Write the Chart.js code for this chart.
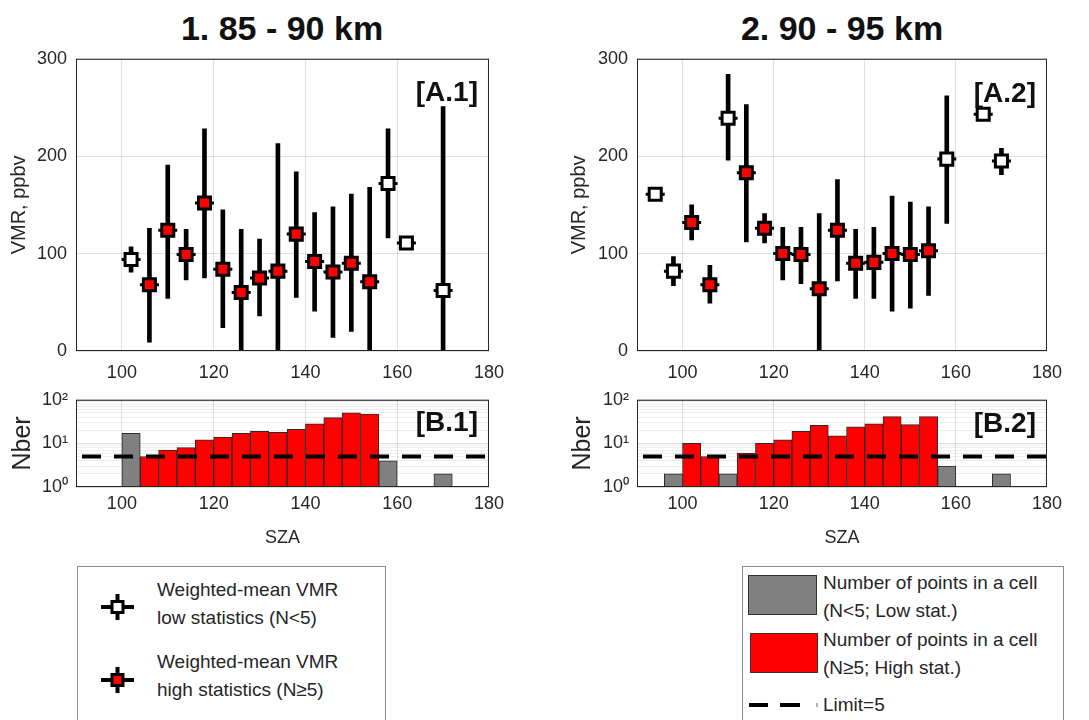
<!DOCTYPE html>
<html>
<head>
<meta charset="utf-8">
<script src="https://cdn.jsdelivr.net/npm/chart.js@4/dist/chart.umd.min.js"></script>
<style>
  body { margin: 0; background: #fff; font-family: "Liberation Sans", Arial, sans-serif; color: #262626; }
  #page { position: relative; width: 1089px; height: 720px; overflow: hidden; }
  .box { position: absolute; }
  .title { position: absolute; font-weight: bold; font-size: 34px; color: #111; transform: translate(-50%, -50%); white-space: nowrap; }
  .tag { position: absolute; font-size: 28px; font-weight: bold; color: #111; transform: translate(-100%, -50%); white-space: nowrap; }
  .legend { position: absolute; border: 1px solid #8c8c8c; background: #fff; }
  .lt { position: absolute; font-size: 19px; line-height: 28px; color: #262626; white-space: nowrap; }
</style>
</head>
<body>
<div id="page">
  <div class="title" style="left:282px; top:28px;">1. 85 - 90 km</div>
  <div class="title" style="left:842px; top:28px;">2. 90 - 95 km</div>

  <div class="box" style="left:0; top:39px;"><canvas id="a1" width="515" height="346"></canvas></div>
  <div class="box" style="left:560px; top:39px;"><canvas id="a2" width="513" height="346"></canvas></div>
  <div class="box" style="left:0; top:381px;"><canvas id="b1" width="510" height="169"></canvas></div>
  <div class="box" style="left:560px; top:381px;"><canvas id="b2" width="508" height="169"></canvas></div>

  <div class="tag" style="left:478px; top:92px;">[A.1]</div>
  <div class="tag" style="left:1036px; top:93px;">[A.2]</div>
  <div class="tag" style="left:478px; top:422px;">[B.1]</div>
  <div class="tag" style="left:1036px; top:423px;">[B.2]</div>

  <!-- legende gauche : marqueurs VMR -->
  <div class="legend" style="left:77px; top:566px; width:307px; height:170px;"></div>
  <svg class="box" style="left:95px; top:588px;" width="45" height="110">
    <line x1="6" y1="19" x2="39" y2="19" stroke="#000" stroke-width="4"/>
    <line x1="22.5" y1="6" x2="22.5" y2="32" stroke="#000" stroke-width="4"/>
    <rect x="17" y="13.5" width="11" height="11" fill="#fff" stroke="#000" stroke-width="3"/>
    <line x1="6" y1="92" x2="39" y2="92" stroke="#000" stroke-width="4"/>
    <line x1="22.5" y1="79" x2="22.5" y2="105" stroke="#000" stroke-width="4"/>
    <rect x="17" y="86.5" width="11" height="11" fill="#f00" stroke="#000" stroke-width="3"/>
  </svg>
  <div class="lt" style="left:157px; top:576px;">Weighted-mean VMR<br>low statistics (N&lt;5)</div>
  <div class="lt" style="left:157px; top:648px;">Weighted-mean VMR<br>high statistics (N&ge;5)</div>

  <!-- legende droite : histogramme -->
  <div class="legend" style="left:742px; top:566px; width:320px; height:170px;"></div>
  <div class="box" style="left:748px; top:575px; width:67px; height:38px; background:#808080; border:1px solid #333;"></div>
  <div class="box" style="left:750px; top:633px; width:66px; height:38px; background:#f00; border:1px solid #333;"></div>
  <svg class="box" style="left:745px; top:698px;" width="80" height="14">
    <line x1="4" y1="7" x2="23" y2="7" stroke="#000" stroke-width="4"/>
    <line x1="35" y1="7" x2="55" y2="7" stroke="#000" stroke-width="4"/>
    <line x1="72" y1="5" x2="72" y2="9" stroke="#999" stroke-width="1.5"/>
  </svg>
  <div class="lt" style="left:823px; top:569px;">Number of points in a cell<br>(N&lt;5; Low stat.)</div>
  <div class="lt" style="left:823px; top:626px;">Number of points in a cell<br>(N&ge;5; High stat.)</div>
  <div class="lt" style="left:823px; top:691px;">Limit=5</div>
</div>

<script>
// --- panneau A.1 : 85-90 km ---
const a1Sza = [102, 106, 110, 114, 118, 122, 126, 130, 134, 138, 142, 146, 150, 154, 158, 162, 170];
const a1Vmr = [94, 68, 124, 99, 152, 84, 60, 75, 82, 120, 92, 81, 90, 71, 172, 111, 62];
const a1ErrLo = [81, 9, 54, 73, 75, 24, 0, 36, 0, 55, 41, 14, 20, 0, 116, null, 0];
const a1ErrHi = [107, 126, 191, 125, 228, 145, 125, 115, 213, 184, 142, 148, 161, 168, 228, null, 251];
const a1LowStat = [102, 158, 162, 170];

// --- panneau A.2 : 90-95 km ---
const a2Sza = [94, 98, 102, 106, 110, 114, 118, 122, 126, 130, 134, 138, 142, 146, 150, 154, 158, 166, 170];
const a2Vmr = [161, 82, 132, 68, 239, 183, 126, 100, 99, 64, 124, 90, 91, 100, 99, 103, 197, 243, 195];
const a2ErrLo = [null, 67, 114, 49, 196, 112, 111, 73, 69, 0, 72, 54, 54, 41, 44, 57, 131, null, 181];
const a2ErrHi = [null, 97, 150, 88, 284, 253, 141, 127, 127, 141, 176, 125, 127, 159, 153, 148, 262, null, 208];
const a2LowStat = [94, 98, 110, 158, 166, 170];

// --- histogrammes B.1 / B.2 (centres des cellules de 4 deg) ---
const b1Bins = [102, 106, 110, 114, 118, 122, 126, 130, 134, 138, 142, 146, 150, 154, 158, 162, 166, 170];
const b1Counts = [17, 5, 7, 8, 12, 14, 17, 19, 18, 21, 28, 39, 50, 47, 4, 1, 1, 2];
const b1LowStat = [102, 158, 162, 166, 170];

const b2Bins = [94, 98, 102, 106, 110, 114, 118, 122, 126, 130, 134, 138, 142, 146, 150, 154, 158, 166, 170];
const b2Counts = [1, 2, 10, 5, 2, 6, 10, 12, 19, 26, 15, 24, 28, 41, 27, 41, 3, 1, 2];
const b2LowStat = [94, 98, 110, 158, 166, 170];

const limitN = 5;
const xTicks = [100, 120, 140, 160, 180];
const vmrTicks = [0, 100, 200, 300];
const logTicks = [1, 2, 3, 4, 5, 6, 7, 8, 9, 10, 20, 30, 40, 50, 60, 70, 80, 90, 100];
const logLabels = {1: '10\u2070', 10: '10\u00b9', 100: '10\u00b2'};

const TXT = '#262626';
const FONT = "'Liberation Sans', Arial, sans-serif";

// cadre complet style matlab
const frame = {
    id: 'frame',
    afterDatasetsDraw(chart) {
        const {ctx, chartArea: a} = chart;
        ctx.save();
        ctx.strokeStyle = TXT;
        ctx.lineWidth = 1;
        ctx.strokeRect(a.left + 0.5, a.top + 0.5, a.right - a.left - 1, a.bottom - a.top - 1);
        ctx.restore();
    }
};

function xScale(tickPad, height, title) {
    return {
        type: 'linear', min: 90, max: 180, offset: false,
        afterBuildTicks: s => { s.ticks = xTicks.map(v => ({value: v})); },
        afterFit: s => { s.height = height; },
        ticks: {autoSkip: false, maxRotation: 0, padding: tickPad, color: TXT, font: {family: FONT, size: 18}},
        grid: {color: 'rgba(0,0,0,0.12)', drawTicks: false, offset: false},
        border: {display: false},
        title: title ? {display: true, text: title, color: TXT, font: {family: FONT, size: 18}, padding: {top: 0, bottom: 1}} : {display: false}
    };
}

function vmrChart(id, yWidth, sza, vmr, lo, hi, lowStat) {
    const errs = [];
    sza.forEach((x, i) => { if (lo[i] !== null) errs.push({x: x, y: [lo[i], hi[i]]}); });
    const open = [], full = [];
    sza.forEach((x, i) => (lowStat.includes(x) ? open : full).push({x: x, y: vmr[i]}));
    const all = sza.map((x, i) => ({x: x, y: vmr[i]}));

    new Chart(document.getElementById(id), {
        type: 'scatter',
        data: {
            datasets: [
                {data: open, order: 0, pointStyle: 'rect', pointRadius: 8.5, backgroundColor: '#fff', borderColor: '#000', borderWidth: 3},
                {data: full, order: 0, pointStyle: 'rect', pointRadius: 8.5, backgroundColor: '#f00', borderColor: '#000', borderWidth: 3},
                {data: all, order: 1, pointStyle: 'line', pointRadius: 9.5, borderColor: '#000', borderWidth: 3},
                {type: 'bar', data: errs, order: 2, backgroundColor: '#000', barThickness: 4}
            ]
        },
        options: {
            responsive: false, animation: false,
            layout: {padding: {top: 9, right: 21, left: 0, bottom: 0}},
            plugins: {legend: {display: false}, tooltip: {enabled: false}},
            scales: {
                x: xScale(11, 34, null),
                y: {
                    type: 'linear', min: 0, max: 300,
                    afterBuildTicks: s => { s.ticks = vmrTicks.map(v => ({value: v})); },
                    afterFit: s => { s.width = yWidth; },
                    ticks: {padding: 9, color: TXT, font: {family: FONT, size: 18}},
                    grid: {color: 'rgba(0,0,0,0.12)', drawTicks: false},
                    border: {display: false},
                    title: {display: true, text: 'VMR, ppbv', color: TXT, font: {family: FONT, size: 20}, padding: {top: 7.5}}
                }
            }
        },
        plugins: [frame]
    });
}

function histChart(id, yWidth, bins, counts, lowStat) {
    const bars = bins.map((x, i) => ({x: x, y: counts[i]}));
    new Chart(document.getElementById(id), {
        type: 'bar',
        data: {
            datasets: [
                {type: 'line', data: [{x: 90, y: limitN}, {x: 180, y: limitN}], order: 0,
                    borderColor: '#000', borderWidth: 4, borderDash: [19, 13], borderDashOffset: 26, pointRadius: 0},
                {data: bars, order: 1, barPercentage: 1, categoryPercentage: 1,
                    backgroundColor: bins.map(b => lowStat.includes(b) ? '#808080' : '#ff0000'),
                    borderColor: '#2a2a2a', borderWidth: 1, borderSkipped: false}
            ]
        },
        options: {
            responsive: false, animation: false,
            layout: {padding: {top: 9, right: 21, left: 0, bottom: 0}},
            plugins: {legend: {display: false}, tooltip: {enabled: false}},
            scales: {
                x: xScale(6, 63, 'SZA'),
                y: {
                    type: 'logarithmic', min: 1, max: 100,
                    afterBuildTicks: s => { s.ticks = logTicks.map(v => ({value: v})); },
                    afterFit: s => { s.width = yWidth; },
                    ticks: {autoSkip: false, padding: 8, color: TXT, font: {family: FONT, size: 18},
                        callback: v => logLabels[v] || ''},
                    grid: {drawTicks: false,
                        color: c => (c.tick && logLabels[c.tick.value]) ? 'rgba(0,0,0,0.14)' : 'rgba(0,0,0,0.07)'},
                    border: {display: false},
                    title: {display: true, text: 'Nber', color: TXT, font: {family: FONT, size: 25}, padding: {top: 8}}
                }
            }
        },
        plugins: [frame]
    });
}

vmrChart('a1', 76, a1Sza, a1Vmr, a1ErrLo, a1ErrHi, a1LowStat);
vmrChart('a2', 77, a2Sza, a2Vmr, a2ErrLo, a2ErrHi, a2LowStat);
histChart('b1', 76, b1Bins, b1Counts, b1LowStat);
histChart('b2', 77, b2Bins, b2Counts, b2LowStat);
</script>
</body>
</html>
